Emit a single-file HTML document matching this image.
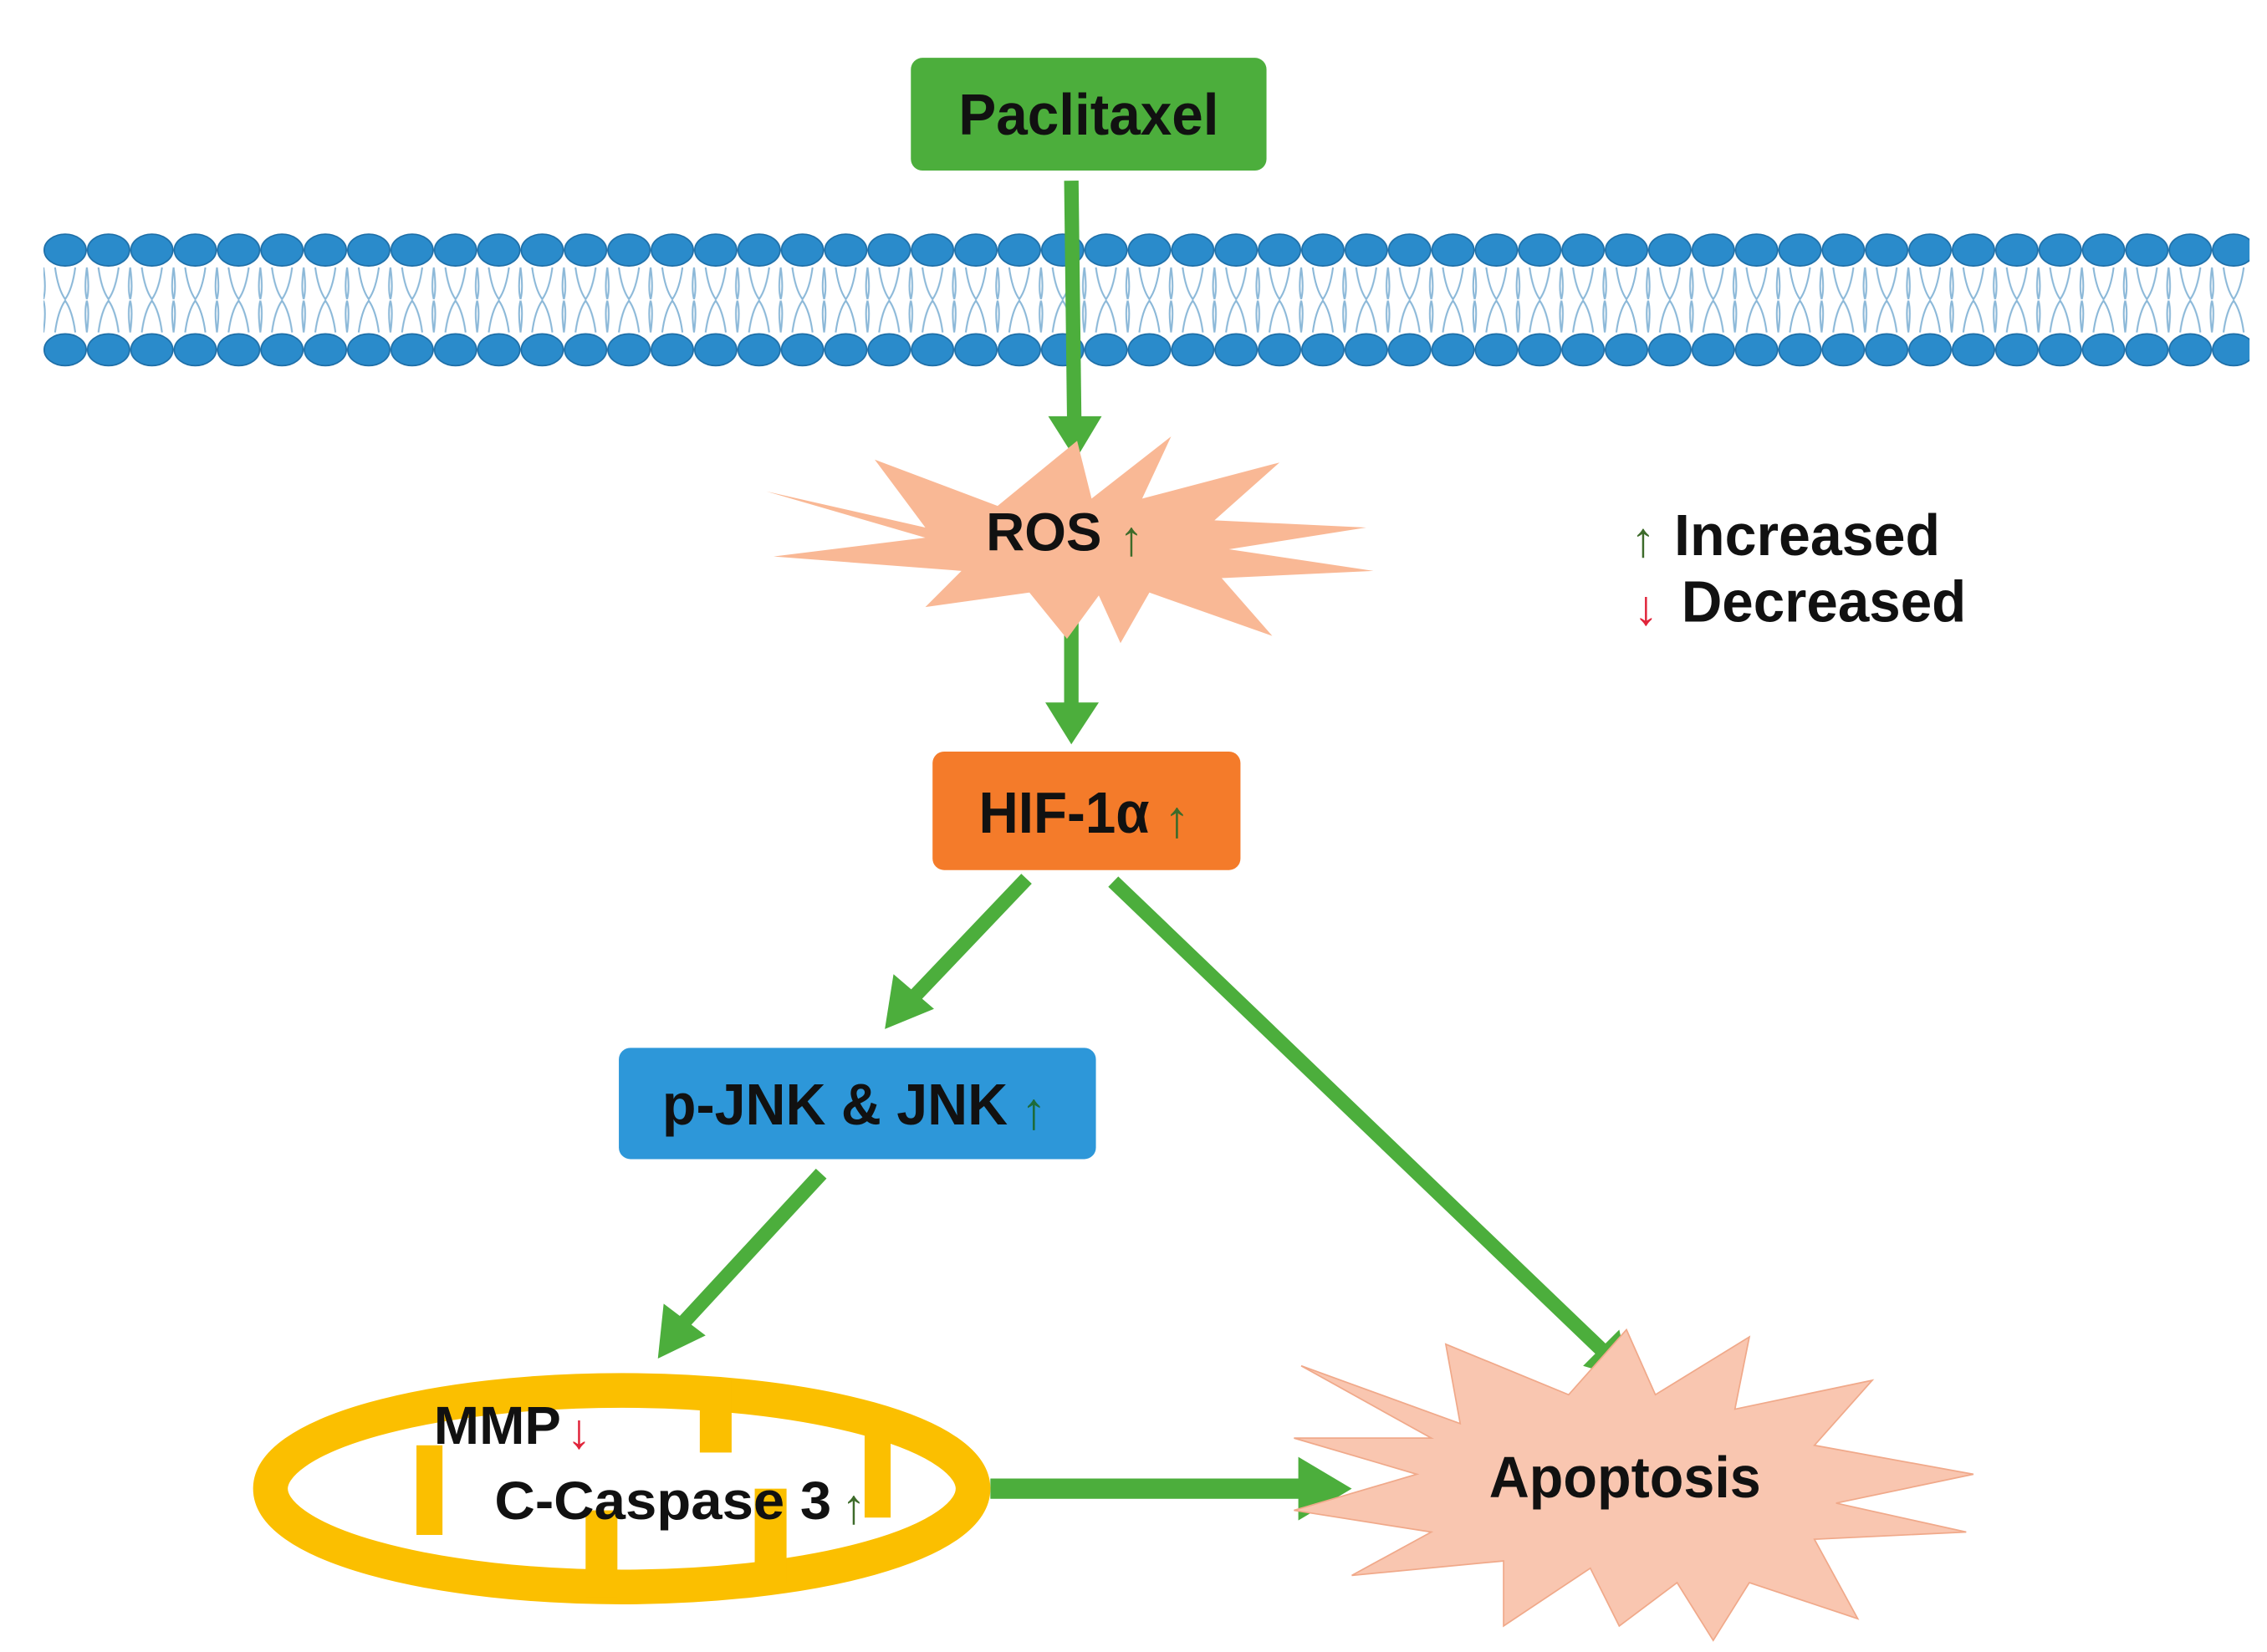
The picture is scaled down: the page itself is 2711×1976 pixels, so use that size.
<!DOCTYPE html>
<html><head><meta charset="utf-8"><style>
html,body{margin:0;padding:0;background:#fff;}
svg{display:block}
text{font-family:"Liberation Sans",sans-serif;font-weight:bold;}
</style></head><body>
<svg width="2711" height="1976" viewBox="0 0 1568 1143" xmlns="http://www.w3.org/2000/svg">
<defs>
<pattern id="tail" x="30" y="0" width="30" height="1143" patternUnits="userSpaceOnUse">
<path d="M8 185 Q10 200 15 207 Q20 200 22 185 M8 230 Q10 215 15 208 Q20 215 22 230 M0 185 Q2 200 0 207 M30 185 Q28 200 30 207 M0 230 Q2 215 0 208 M30 230 Q28 215 30 208" fill="none" stroke="#8bb8d8" stroke-width="1.2"/>
</pattern>
<pattern id="heads" x="30" y="0" width="30" height="1143" patternUnits="userSpaceOnUse">
<ellipse cx="15" cy="173" rx="14.5" ry="11" fill="#2a8bcb" stroke="#1e6fa8" stroke-width="1"/>
<ellipse cx="15" cy="242" rx="14.5" ry="11" fill="#2a8bcb" stroke="#1e6fa8" stroke-width="1"/>
</pattern>
</defs>
<rect x="30" y="183" width="1526" height="50" fill="url(#tail)"/>
<rect x="30" y="160" width="1526" height="95" fill="url(#heads)"/>

<rect x="630" y="40" width="246" height="78" rx="8" fill="#4cae3c"/>
<text x="663" y="93" font-size="40" textLength="180" lengthAdjust="spacingAndGlyphs" fill="#111">Paclitaxel</text>

<g stroke="#4cae3c" stroke-width="10" fill="#4cae3c">
<line x1="741" y1="125" x2="743" y2="290"/>
<polygon points="725,288 762,288 744,318" stroke="none"/>
<line x1="741" y1="415" x2="741" y2="488"/>
<polygon points="723,486 760,486 741,515" stroke="none"/>
<line x1="710" y1="608" x2="630" y2="692"/>
<polygon points="612,712 618,674 646,698" stroke="none"/>
<line x1="770" y1="610" x2="1110" y2="936"/>
<polygon points="1128,955 1095,945 1120,920" stroke="none"/>
<line x1="568" y1="812" x2="470" y2="918"/>
<polygon points="455,940 459,902 488,924" stroke="none"/>
<line x1="685" y1="1030" x2="900" y2="1030" stroke-width="14"/>
<polygon points="898,1008 898,1052 935,1030" stroke="none"/>
</g>

<polygon fill="#f9b895" points="530,340 640,365 605,318 690,350 745,305 755,345 810,302 790,345 885,320 840,360 945,365 850,380 950,395 845,400 880,440 795,410 775,445 760,412 738,442 712,410 640,420 665,395 535,385 640,372" />
<text x="682" y="381" font-size="37" textLength="80" lengthAdjust="spacingAndGlyphs" fill="#111">ROS</text>
<text x="774" y="384" font-size="34" fill="#3d6b2a" font-weight="normal">↑</text>

<text x="1128" y="385" font-size="34" fill="#3d6b2a" font-weight="normal">↑</text>
<text x="1158" y="384" font-size="40" textLength="184" lengthAdjust="spacingAndGlyphs" fill="#111">Increased</text>
<text x="1130" y="432" font-size="34" fill="#e0243a" font-weight="normal">↓</text>
<text x="1163" y="430" font-size="40" textLength="197" lengthAdjust="spacingAndGlyphs" fill="#111">Decreased</text>

<rect x="645" y="520" width="213" height="82" rx="8" fill="#f47b2a"/>
<text x="677" y="576" font-size="40" textLength="118" lengthAdjust="spacingAndGlyphs" fill="#111">HIF-1α</text>
<text x="805" y="579" font-size="36" fill="#3d6b2a" font-weight="normal">↑</text>

<rect x="428" y="725" width="330" height="77" rx="8" fill="#2d97d9"/>
<text x="458" y="778" font-size="40" textLength="239" lengthAdjust="spacingAndGlyphs" fill="#111">p-JNK &amp; JNK</text>
<text x="706" y="781" font-size="36" fill="#1e6b3a" font-weight="normal">↑</text>

<ellipse cx="430" cy="1030" rx="243" ry="68" fill="#fff" stroke="#fbbf00" stroke-width="24"/>
<g fill="#fbbf00">
<rect x="288" y="1000" width="18" height="62"/>
<rect x="484" y="955" width="22" height="50"/>
<rect x="405" y="1045" width="22" height="60"/>
<rect x="522" y="1030" width="22" height="65"/>
<rect x="598" y="990" width="18" height="60"/>
</g>
<text x="300" y="999" font-size="37" textLength="88" lengthAdjust="spacingAndGlyphs" fill="#111">MMP</text>
<text x="392" y="1002" font-size="34" fill="#e0243a" font-weight="normal">↓</text>
<text x="342" y="1051" font-size="37" textLength="233" lengthAdjust="spacingAndGlyphs" fill="#111">C-Caspase 3</text>
<text x="582" y="1054" font-size="34" fill="#3d6b2a" font-weight="normal">↑</text>

<polygon fill="#f9c6b0" stroke="#f0a98a" stroke-width="1" points="900,945 1010,985 1000,930 1085,965 1125,920 1145,965 1210,925 1200,975 1295,955 1255,1000 1365,1020 1270,1040 1360,1060 1255,1065 1285,1120 1210,1095 1185,1135 1160,1095 1120,1125 1100,1085 1040,1125 1040,1080 935,1090 990,1060 895,1045 980,1020 895,995 990,995"/>
<text x="1030" y="1036" font-size="40" textLength="188" lengthAdjust="spacingAndGlyphs" fill="#111">Apoptosis</text>
</svg>
</body></html>
